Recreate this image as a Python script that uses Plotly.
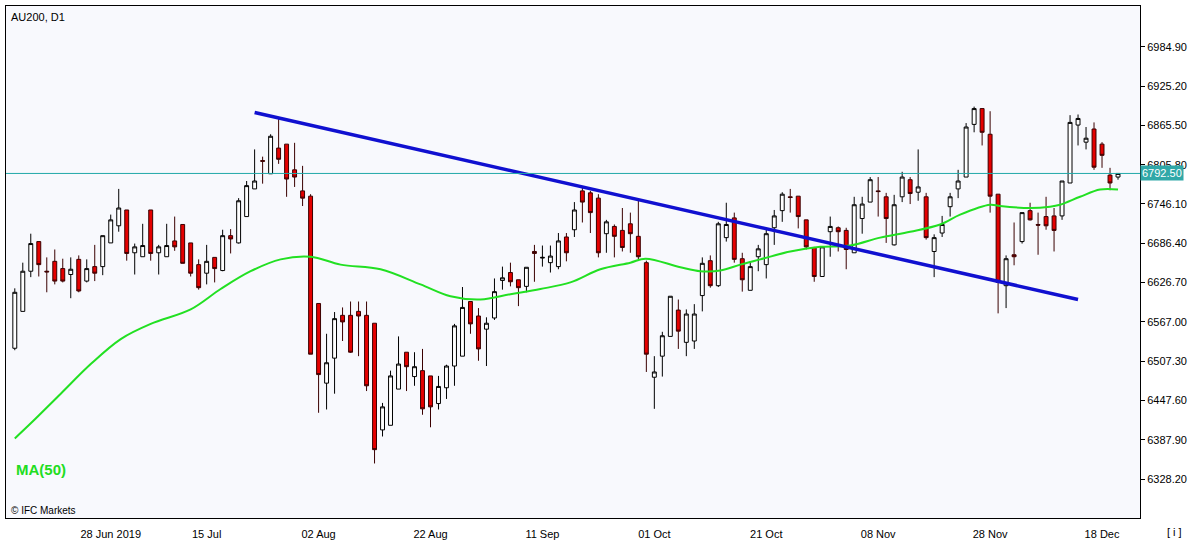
import plotly.graph_objects as go
import pandas as pd

dates = pd.bdate_range("2019-06-11", "2019-12-20")

opens = [6527,6583,6644,6689,6644,6659,6648,6639,6662,6629,6651,6651,6687,6713,6737,6672,6666,6737,6672,6666,6690,6715,6687,6654,
         6641,6665,6645,6698,6687,6727,6769,6812,6792,6831,6837,6798,6766,6758,6595,6474,6512,6577,6577,6583,6577,6565,6403,
         6410,6465,6521,6484,6493,6485,6443,6467,6500,6515,6598,6576,6556,6573,6630,6642,6631,6621,6674,6664,6657,6651,6696,6707,
         6766,6763,6755,6701,6712,6706,6716,6697,6657,6483,6515,6545,6585,6536,6538,6607,6660,6622,6695,6725,6663,6615,6666,6654,
         6710,6736,6757,6758,6722,6680,6636,6704,6710,6706,6672,6724,6749,6766,6757,6684,6757,6783,6764,6757,6674,6702,6742,6769,
         6787,6867,6891,6852,6761,6622,6669,6689,6736,6715,6727,6728,6728,6778,6866,6840,6860,6837,6790,6787]
closes = [6612,6644,6686,6654,6643,6629,6629,6647,6614,6648,6641,6698,6722,6740,6671,6681,6683,6671,6681,6683,6681,6656,6641,6619,
          6659,6648,6698,6693,6751,6774,6781,6811,6849,6814,6784,6787,6755,6518,6487,6505,6572,6567,6521,6576,6470,6373,6438,
          6485,6503,6499,6499,6435,6438,6469,6500,6561,6589,6564,6526,6565,6613,6634,6628,6619,6650,6671,6665,6667,6690,6672,6737,
          6749,6733,6672,6719,6697,6680,6701,6666,6518,6491,6546,6606,6553,6579,6579,6656,6622,6716,6715,6662,6631,6651,6678,6701,
          6728,6761,6756,6727,6681,6636,6681,6712,6704,6677,6745,6746,6783,6765,6724,6745,6787,6762,6772,6695,6695,6715,6757,6781,
          6863,6891,6855,6758,6627,6663,6666,6733,6722,6714,6713,6706,6781,6870,6876,6846,6802,6820,6778,6792.5]
highs = [6618,6657,6701,6689,6665,6677,6663,6665,6668,6662,6684,6698,6730,6769,6737,6686,6716,6737,6684,6716,6727,6715,6687,6662,
         6684,6665,6707,6708,6755,6781,6829,6818,6852,6875,6837,6839,6804,6761,6595,6549,6582,6589,6598,6598,6598,6565,6444,
         6493,6545,6521,6521,6526,6485,6485,6502,6564,6620,6598,6588,6574,6633,6651,6657,6631,6650,6684,6683,6683,6702,6702,6749,
         6772,6766,6761,6722,6715,6740,6733,6754,6660,6515,6552,6606,6601,6586,6594,6665,6668,6719,6748,6733,6672,6659,6684,6707,
         6737,6764,6769,6758,6722,6681,6681,6727,6712,6710,6757,6757,6787,6787,6763,6760,6795,6787,6829,6763,6700,6728,6763,6798,
         6869,6894,6891,6887,6761,6668,6718,6733,6748,6733,6757,6740,6781,6881,6882,6863,6870,6840,6801,6793]
lows = [6524,6583,6635,6636,6612,6624,6627,6603,6612,6627,6629,6638,6687,6704,6660,6639,6666,6660,6639,6666,6675,6656,6636,6616,
        6624,6627,6644,6671,6686,6727,6769,6777,6792,6807,6757,6772,6743,6518,6429,6434,6458,6538,6520,6515,6462,6352,6393,
        6410,6465,6462,6470,6426,6407,6434,6450,6470,6515,6549,6508,6500,6570,6616,6621,6591,6612,6628,6651,6642,6647,6659,6696,
        6718,6702,6665,6672,6665,6674,6672,6662,6491,6435,6484,6545,6526,6515,6526,6583,6619,6620,6689,6657,6613,6615,6644,6633,
        6684,6719,6733,6709,6677,6628,6636,6666,6674,6647,6672,6701,6749,6727,6687,6683,6749,6746,6751,6692,6635,6696,6727,6755,
        6787,6855,6835,6733,6580,6588,6653,6686,6721,6669,6707,6674,6722,6778,6835,6829,6798,6801,6767,6783]

ma_idx = [0,2,5.75,9.5,13.25,17,22,25.75,29.5,33.25,37,40.75,45.75,50.75,54.5,58.25,62,65.75,69.5,73.25,77,78.9,83.25,
          85.75,88.25,90.75,93.25,97,100.75,104.5,108.25,112,115.75,118.25,122,123.25,127,129.5,130.75,133.25,135.75,138]
ma_val = [6390,6413,6458,6503,6541,6564,6586,6617,6644,6662,6666,6654,6647,6624,6606,6601,6609,6617,6627,6647,6657,6663,
          6650,6644,6645,6654,6662,6674,6681,6683,6695,6704,6715,6730,6745,6743,6740,6742,6745,6757,6768,6768]

trend_idx = [30, 133]
trend_val = [6885, 6601]
last_price = 6792.50

yticks = [6328.20,6387.90,6447.60,6507.30,6567.00,6626.70,6686.40,6746.10,6805.80,6865.50,6925.20,6984.90]
xtick_idx = [12, 24, 38, 52, 66, 80, 94, 108, 122, 136]
xtick_txt = ["28 Jun 2019","15 Jul","02 Aug","22 Aug","11 Sep","01 Oct","21 Oct","08 Nov","28 Nov","18 Dec"]

idx = list(range(len(closes)))
fig = go.Figure()
fig.add_trace(go.Candlestick(x=idx, open=opens, high=highs, low=lows, close=closes,
    increasing=dict(fillcolor="white", line=dict(color="black", width=1)),
    decreasing=dict(fillcolor="#e50000", line=dict(color="#3a0000", width=1)),
    whiskerwidth=0, showlegend=False, hoverinfo="skip"))
fig.add_trace(go.Scatter(x=ma_idx, y=ma_val, mode="lines", line=dict(color="#22e022", width=2, shape="spline"),
                         showlegend=False, hoverinfo="skip"))
fig.add_trace(go.Scatter(x=trend_idx, y=trend_val, mode="lines", line=dict(color="#1010d0", width=3.5),
                         showlegend=False, hoverinfo="skip"))
fig.add_shape(type="line", xref="paper", x0=0, x1=1, yref="y", y0=last_price, y1=last_price,
              line=dict(color="#20a8a8", width=1))
fig.add_annotation(xref="paper", x=1.0, xanchor="left", y=last_price, yref="y", text=f"{last_price:.2f}",
                   showarrow=False, bgcolor="#30a8a8", font=dict(color="white", size=11, family="Arial"),
                   borderpad=1)
fig.add_annotation(xref="paper", yref="paper", x=0.003, y=0.995, xanchor="left", yanchor="top",
                   text="AU200, D1", showarrow=False, font=dict(size=11, color="black", family="Arial"))
fig.add_annotation(xref="paper", yref="paper", x=0.007, y=0.095, xanchor="left", yanchor="middle",
                   text="<b>MA(50)</b>", showarrow=False, font=dict(size=15, color="#22dd22", family="Arial"))
fig.add_annotation(xref="paper", yref="paper", x=0.003, y=0.0, xanchor="left", yanchor="bottom",
                   text="© IFC Markets", showarrow=False, font=dict(size=10, color="black", family="Arial"))
fig.add_annotation(xref="paper", yref="paper", x=1.03, y=-0.012, xanchor="center", yanchor="top",
                   text="[ i ]", showarrow=False, font=dict(size=11, color="black", family="Arial"))

fig.update_layout(width=1194, height=545, margin=dict(l=5, r=54, t=5, b=25),
    paper_bgcolor="white", plot_bgcolor="#f8f9fd",
    xaxis=dict(range=[-1.1, 140.75], tickvals=xtick_idx, ticktext=xtick_txt, showgrid=False, zeroline=False,
               rangeslider=dict(visible=False), showline=True, linecolor="black", mirror=True, ticks="",
               ticklabelstandoff=6,
               tickfont=dict(size=11, family="Arial", color="black")),
    yaxis=dict(range=[6269.2, 7046.8], side="right", tickvals=yticks, ticktext=[f"{v:.2f}" for v in yticks],
               showgrid=False, zeroline=False, showline=True, linecolor="black", mirror=True, ticks="outside",
               ticklen=4, tickcolor="black", tickfont=dict(size=11, family="Arial", color="black")))
fig.write_html("out.html", config={"displayModeBar": False})

with open("out.html", encoding="utf-8") as f:
    html = f.read()
html = html.replace("<head>", "<head><style>html,body{margin:0;padding:0;overflow:hidden;}</style>", 1)
with open("out.html", "w", encoding="utf-8") as f:
    f.write(html)
